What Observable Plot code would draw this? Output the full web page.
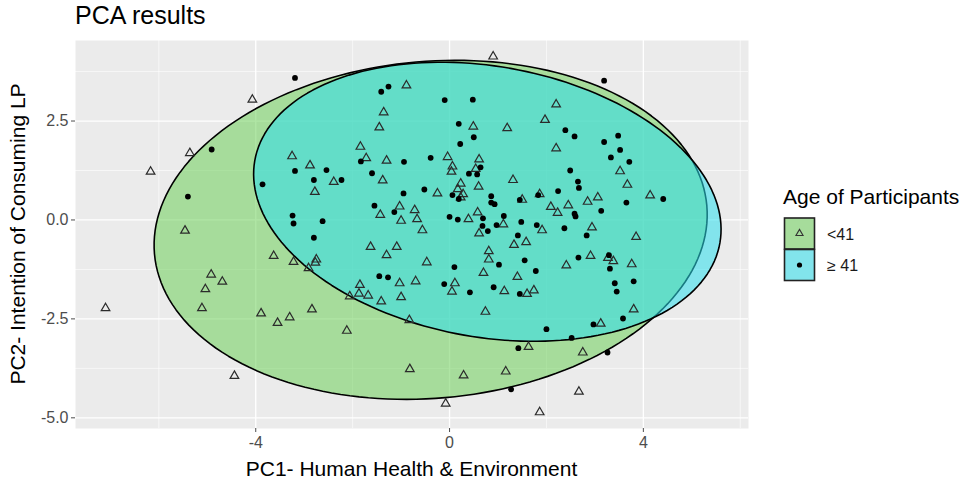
<!DOCTYPE html>
<html>
<head>
<meta charset="utf-8">
<script src="https://cdn.jsdelivr.net/npm/d3@7"></script>
<script src="https://cdn.jsdelivr.net/npm/@observablehq/plot@0.6"></script>
<style>
  html, body { margin: 0; padding: 0; background: #ffffff; }
  #wrap { position: relative; width: 971px; height: 482px; font-family: "Liberation Sans", Arial, sans-serif; }
  #chart, #overlay { position: absolute; left: 0; top: 0; }
</style>
</head>
<body>
<div id="wrap">
  <div id="chart"></div>
  <svg id="overlay" width="971" height="482" xmlns="http://www.w3.org/2000/svg"></svg>
</div>
<script>
// ---------- data ----------
const groups = ["<41", "≥ 41"];
const legendTitle = "Age of Participants";
const chartTitle = "PCA results";
const xTitle = "PC1- Human Health & Environment";
const yTitle = "PC2- Intention of Consuming LP";

const xTicks = [-4, 0, 4];
const xMinor = [-6, -2, 2, 6];
const yTicks = [-5, -2.5, 0, 2.5];
const yMinor = [-3.75, -1.25, 1.25, 3.75];

// group "<41" (open triangles)
const youngX = [-4.07,-5.36,-6.17,-3.25,-5.46,-3.63,-3.22,-4.92,-4.69,-5.04,-7.10,-5.11,-3.89,-3.55,-3.30,-4.44,
  0.90,-0.89,-1.36,-1.45,0.49,1.19,-1.84,-1.72,-1.30,-0.04,0.61,-2.88,0.06,0.04,0.54,-2.39,-1.38,1.31,-2.78,-0.25,
  0.23,0.17,0.60,0.28,0.23,1.50,-1.03,-0.72,-1.43,-1.00,-0.67,0.39,0.58,0.61,1.11,-0.56,1.33,1.58,-1.63,-1.09,-1.30,
  0.81,0.81,-2.75,-2.77,-2.91,-0.47,0.70,1.40,-1.85,-1.03,-0.70,0.11,1.13,1.60,0.05,-1.87,-2.06,-1.68,-1.00,-1.41,
  0.74,-2.84,-0.83,-2.12,1.63,-0.82,0.29,1.16,-0.08,2.20,1.97,2.20,3.52,3.67,1.86,4.14,3.06,2.85,2.45,2.09,2.23,
  1.91,2.94,3.85,2.91,2.41,3.38,3.27,3.76,1.74,3.80,3.12,2.75,2.67,1.86];
const youngY = [3.04,1.69,1.22,1.61,-0.27,-0.91,-1.06,-1.38,-1.56,-1.75,-2.23,-2.23,-2.36,-2.60,-2.46,-3.94,
  4.13,3.40,2.72,2.34,2.36,2.32,1.85,1.56,1.50,1.59,1.53,1.38,1.35,1.22,1.29,0.96,1.00,1.01,0.71,0.67,
  0.92,0.78,0.84,0.65,0.57,0.51,0.34,0.25,0.13,-0.02,0.02,0.02,0.19,-0.34,-0.11,-0.26,-0.63,-0.56,-0.68,-0.68,-0.89,
  -0.79,-1.00,-1.00,-1.08,-1.22,-1.07,-1.34,-1.44,-1.64,-1.60,-1.55,-1.60,-1.80,-1.87,-1.81,-1.86,-1.93,-1.91,-1.95,-2.06,
  -2.32,-2.26,-2.53,-2.80,-3.21,-3.77,-3.93,-3.83,-4.64,2.92,2.53,1.81,1.23,0.89,0.65,0.62,0.57,0.46,0.37,0.33,0.18,
  -0.26,-0.19,-0.43,-0.91,-1.15,-1.04,-0.96,-1.12,-1.78,-2.26,-2.62,-3.35,-4.34,-4.86];

// group "≥ 41" (filled dots)
const oldX = [-3.19,-4.91,-3.19,-3.86,-5.40,-3.24,-3.22,-1.26,-1.41,-0.10,0.48,0.19,0.50,0.22,-1.83,-0.94,-0.39,
  -2.54,0.64,-1.60,0.40,0.57,-2.80,-2.23,-0.95,-0.52,0.06,0.19,0.86,0.86,0.93,1.45,-1.55,-1.14,-2.62,0.00,0.17,
  0.69,1.12,0.68,0.79,0.97,1.48,1.41,-2.80,1.02,1.55,0.10,-1.45,-1.27,-0.11,0.91,1.45,0.42,1.42,1.27,3.19,2.39,
  2.58,3.19,3.48,3.52,3.33,3.71,2.49,2.65,2.67,2.24,1.83,4.41,3.65,2.58,2.60,3.13,1.80,2.37,2.83,1.78,2.66,3.29,
  3.31,3.41,3.45,3.80,3.58,2.97,2.00,2.52,3.26];
const oldY = [3.59,1.78,1.24,0.90,0.59,0.11,-0.09,3.37,3.24,3.03,3.04,2.43,2.09,1.92,1.48,1.47,1.57,
  1.26,1.33,1.18,1.17,1.15,1.01,1.01,0.67,0.77,0.63,0.53,0.60,0.44,0.40,0.51,0.36,0.20,-0.03,0.08,0.01,
  0.04,0.10,-0.15,-0.28,-0.13,-0.05,-0.39,-0.45,-1.13,-1.02,-1.19,-1.42,-1.45,-1.62,-1.70,-1.87,-1.83,-3.24,-4.28,3.52,2.27,
  2.11,1.97,2.13,1.77,1.58,1.47,1.25,0.97,0.81,0.73,0.63,0.53,0.44,0.16,0.09,0.23,-0.13,-0.21,-0.39,-1.29,-0.95,-0.89,
  -1.23,-1.60,-1.81,-1.55,-2.49,-2.64,-2.76,-2.98,-3.35];

// 95% ellipses: centre and two conjugate half-axis vectors (data units)
const ellipseYoung = { cx: -0.39, cy: -0.25, ux: 5.70, uy: 0.61, vx: 0.30, vy: -4.24 };
const ellipseOld   = { cx: 0.78,  cy: 0.46,  ux: 4.80, uy: -1.04, vx: -0.48, vy: -3.37 };

// ---------- build ----------
const young = youngX.map((x, i) => ({ x, y: youngY[i], g: groups[0] }));
const old = oldX.map((x, i) => ({ x, y: oldY[i], g: groups[1] }));
function ellipsePath(e) {
  return d3.range(0, 360, 2).map(a => {
    const t = a * Math.PI / 180;
    return { x: e.cx + e.ux * Math.cos(t) + e.vx * Math.sin(t),
             y: e.cy + e.uy * Math.cos(t) + e.vy * Math.sin(t) };
  });
}
const greenFill = "rgb(110,208,90)";
const blueFill = "rgb(44,222,237)";

const chart = Plot.plot({
  width: 971, height: 482,
  marginLeft: 75, marginRight: 223, marginTop: 40, marginBottom: 54,
  x: { domain: [-7.72, 6.17] },
  y: { domain: [-5.27, 4.535] },
  style: { fontFamily: "'Liberation Sans', Arial, sans-serif", fontSize: "16px", background: "white", overflow: "visible" },
  marks: [
    Plot.frame({ fill: "#ebebeb", stroke: null }),
    Plot.ruleX(xMinor, { stroke: "white", strokeWidth: 0.6 }),
    Plot.ruleY(yMinor, { stroke: "white", strokeWidth: 0.6 }),
    Plot.ruleX(xTicks, { stroke: "white", strokeWidth: 1.3 }),
    Plot.ruleY(yTicks, { stroke: "white", strokeWidth: 1.3 }),
    Plot.line(ellipsePath(ellipseYoung), { x: "x", y: "y", curve: "linear-closed", fill: greenFill, fillOpacity: 0.55, stroke: "black", strokeWidth: 1.6 }),
    Plot.line(ellipsePath(ellipseOld), { x: "x", y: "y", curve: "linear-closed", fill: blueFill, fillOpacity: 0.55, stroke: "black", strokeWidth: 1.6 }),
    Plot.dot(young, { x: "x", y: "y", symbol: "triangle", r: 3.2, stroke: "#2b2b2b", fill: "none", strokeWidth: 1.2 }),
    Plot.dot(old, { x: "x", y: "y", r: 2.9, fill: "black", stroke: null }),
    Plot.axisX({ ticks: xTicks, tickFormat: d => String(d), tickSize: 4, tickPadding: 4, label: null, color: "#4d4d4d", fontSize: 16 }),
    Plot.axisY({ ticks: yTicks, tickFormat: d => d.toFixed(1), tickSize: 4, tickPadding: 3, label: null, color: "#4d4d4d", fontSize: 16 })
  ]
});
document.getElementById("chart").appendChild(chart);

// ---------- titles & legend ----------
const ov = d3.select("#overlay").style("font-family", "'Liberation Sans', Arial, sans-serif");
ov.append("text").attr("x", 75).attr("y", 24).attr("font-size", 25).attr("fill", "#000").text(chartTitle);
ov.append("text").attr("x", 411.5).attr("y", 476).attr("text-anchor", "middle").attr("font-size", 21).attr("fill", "#000").text(xTitle);
ov.append("text").attr("transform", "translate(25,234) rotate(-90)").attr("text-anchor", "middle").attr("font-size", 21).attr("fill", "#000").text(yTitle);
ov.append("text").attr("x", 783).attr("y", 204).attr("font-size", 21).attr("fill", "#000").text(legendTitle);
const keyFills = ["rgb(166,220,155)", "rgb(130,228,236)"];
groups.forEach((g, i) => {
  const y0 = 218 + i * 31.5;
  ov.append("rect").attr("x", 784.5).attr("y", y0).attr("width", 30).attr("height", 31).attr("fill", keyFills[i]).attr("stroke", "#222").attr("stroke-width", 1.6);
  const cy = y0 + 15.5;
  if (i === 0) {
    ov.append("path").attr("d", d3.symbol(d3.symbolTriangle, 22)()).attr("transform", `translate(799.5,${cy})`).attr("fill", "none").attr("stroke", "#333").attr("stroke-width", 1.1);
  } else {
    ov.append("circle").attr("cx", 799.5).attr("cy", cy).attr("r", 2.6).attr("fill", "black");
  }
  ov.append("text").attr("x", 827).attr("y", cy + 6).attr("font-size", 16).attr("fill", "#1a1a1a").text(g);
});
</script>
</body>
</html>
